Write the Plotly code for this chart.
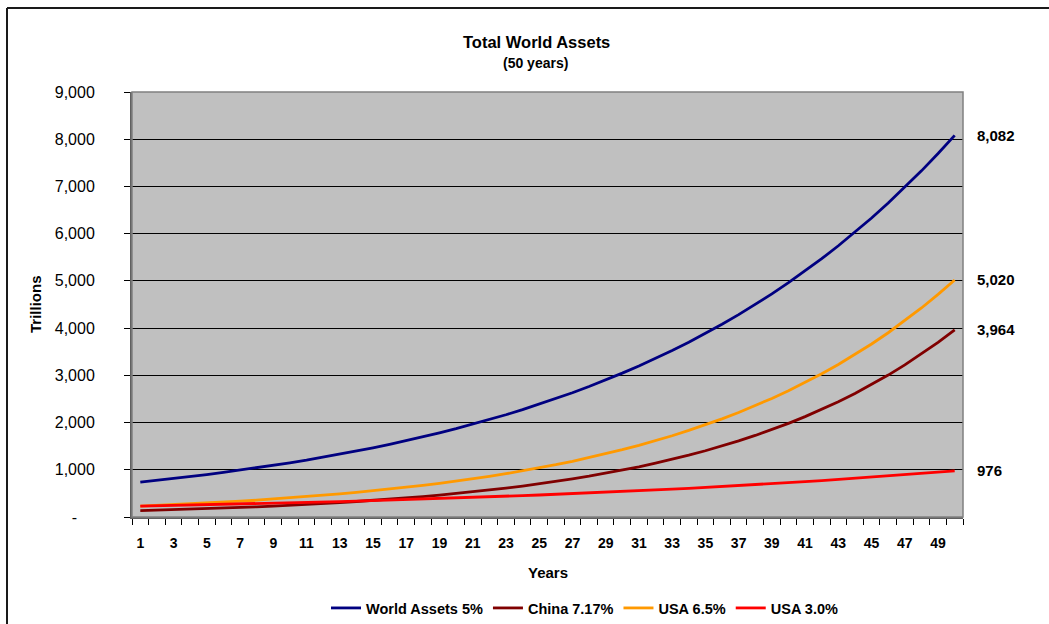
import plotly.graph_objects as go

# Years on the category axis
years = list(range(1, 51))

# Asset projections, trillions
world_assets_5 = [740, 777, 816, 857, 899, 944, 992, 1041, 1093, 1148,
                  1205, 1266, 1329, 1395, 1465, 1538, 1615, 1696, 1781, 1870,
                  1963, 2062, 2165, 2273, 2387, 2506, 2631, 2763, 2901, 3046,
                  3198, 3358, 3526, 3702, 3887, 4082, 4286, 4500, 4725, 4962,
                  5210, 5470, 5744, 6031, 6332, 6649, 6981, 7330, 7697, 8082]
china_717 = [133, 143, 153, 164, 176, 188, 202, 216, 232, 248,
             266, 285, 306, 328, 351, 376, 403, 432, 463, 496,
             532, 570, 611, 655, 702, 752, 806, 864, 926, 992,
             1063, 1140, 1221, 1309, 1403, 1503, 1611, 1727, 1850, 1983,
             2125, 2278, 2441, 2616, 2804, 3005, 3220, 3451, 3698, 3964]
usa_65 = [229, 244, 260, 277, 295, 314, 335, 356, 380, 404,
          431, 459, 488, 520, 554, 590, 628, 669, 713, 759,
          808, 861, 917, 976, 1040, 1107, 1179, 1256, 1338, 1425,
          1517, 1616, 1721, 1833, 1952, 2079, 2214, 2358, 2511, 2674,
          2848, 3033, 3231, 3441, 3664, 3902, 4156, 4426, 4714, 5020]
usa_30 = [229, 236, 243, 251, 258, 266, 274, 282, 290, 299,
          308, 317, 327, 337, 347, 357, 368, 379, 390, 402,
          414, 427, 439, 453, 466, 480, 495, 509, 525, 540,
          557, 573, 590, 608, 626, 645, 665, 685, 705, 726,
          748, 770, 794, 817, 842, 867, 893, 920, 948, 976]

series_names = ["World Assets 5%", "China 7.17%", "USA 6.5%", "USA 3.0%"]
series_values = [world_assets_5, china_717, usa_65, usa_30]
series_colors = ["#000080", "#800000", "#FF9900", "#FF0000"]

y_ticks = [0, 1000, 2000, 3000, 4000, 5000, 6000, 7000, 8000, 9000]
y_ticktext = ["-\u00a0\u00a0\u00a0\u00a0"] + [f"{v:,}" for v in y_ticks[1:]]
x_ticks = list(range(1, 50, 2))

FONT = "Liberation Sans, Arial, sans-serif"
W, H = 1049, 624
L, R, T, B = 132, 963, 92, 517  # plot area in pixels


def px(x):
    return (x - L) / (R - L)


def py(y):
    return (B - y) / (B - T)


fig = go.Figure()
for name, vals, color in zip(series_names, series_values, series_colors):
    fig.add_trace(go.Scatter(x=years, y=vals, mode="lines", name=name,
                             line=dict(color=color, width=2.8)))

annotations = []
# end-of-line value labels
for vals in series_values:
    annotations.append(dict(x=years[-1], y=vals[-1], xref="x", yref="y",
                            text=f"{vals[-1]:,}", showarrow=False,
                            xanchor="left", yanchor="middle", xshift=20,
                            font=dict(family=FONT, size=15, color="#000000",
                                      weight="bold")))
# titles
annotations += [
    dict(x=px(536), y=py(42), xref="paper", yref="paper", text="Total World Assets",
         showarrow=False, xanchor="center", yanchor="middle",
         font=dict(family=FONT, size=16.5, color="#000000", weight="bold")),
    dict(x=px(535), y=py(63), xref="paper", yref="paper", text="(50 years)",
         showarrow=False, xanchor="center", yanchor="middle",
         font=dict(family=FONT, size=14, color="#000000", weight="bold")),
    dict(x=px(548), y=py(572), xref="paper", yref="paper", text="Years",
         showarrow=False, xanchor="center", yanchor="middle",
         font=dict(family=FONT, size=15, color="#000000", weight="bold")),
    dict(x=px(35), y=py(304), xref="paper", yref="paper", text="Trillions",
         showarrow=False, xanchor="center", yanchor="middle", textangle=-90,
         font=dict(family=FONT, size=15, color="#000000", weight="bold")),
]

shapes = [
    # outer chart frame (top and left edges)
    dict(type="line", xref="paper", yref="paper", x0=px(7), x1=px(1060),
         y0=py(8), y1=py(8), line=dict(color="#1a1a1a", width=2)),
    dict(type="line", xref="paper", yref="paper", x0=px(7), x1=px(7),
         y0=py(8), y1=py(640), line=dict(color="#1a1a1a", width=2)),
    # plot area border
    dict(type="rect", xref="paper", yref="paper", x0=0, x1=1, y0=0, y1=1,
         line=dict(color="#808080", width=1.5), layer="above"),
]

fig.update_layout(
    width=W, height=H,
    margin=dict(l=L, r=W - R, t=T, b=H - B, autoexpand=False),
    paper_bgcolor="#FFFFFF",
    plot_bgcolor="#C0C0C0",
    showlegend=True,
    legend=dict(orientation="h", xref="container", yref="container",
                x=326 / W, y=(H - 608) / H, xanchor="left", yanchor="middle",
                font=dict(family=FONT, size=14.5, color="#000000", weight="bold"),
                itemwidth=30, tracegroupgap=0, bgcolor="rgba(0,0,0,0)"),
    annotations=annotations,
    shapes=shapes,
    xaxis=dict(range=[0.5, 50.5], tickmode="array", tickvals=x_ticks,
               ticktext=[str(v) for v in x_ticks], ticks="", showgrid=False,
               zeroline=False, showline=True, linecolor="#606060", linewidth=2,
               ticklabelstandoff=12, automargin=False,
               tickfont=dict(family=FONT, size=14, color="#000000", weight="bold"),
               minor=dict(tickmode="array", tickvals=[v + 0.5 for v in range(0, 51)],
                          ticks="outside", ticklen=6, tickcolor="#000000",
                          tickwidth=1, showgrid=False)),
    yaxis=dict(range=[0, 9000], tickmode="array", tickvals=y_ticks,
               ticktext=y_ticktext, ticks="outside", ticklen=6,
               tickcolor="#000000", showgrid=True, gridcolor="#000000",
               gridwidth=1, zeroline=False, showline=True, linecolor="#606060",
               linewidth=2, ticklabelstandoff=26, automargin=False,
               tickfont=dict(family=FONT, size=16, color="#000000")),
)

fig.write_html("out.html")
